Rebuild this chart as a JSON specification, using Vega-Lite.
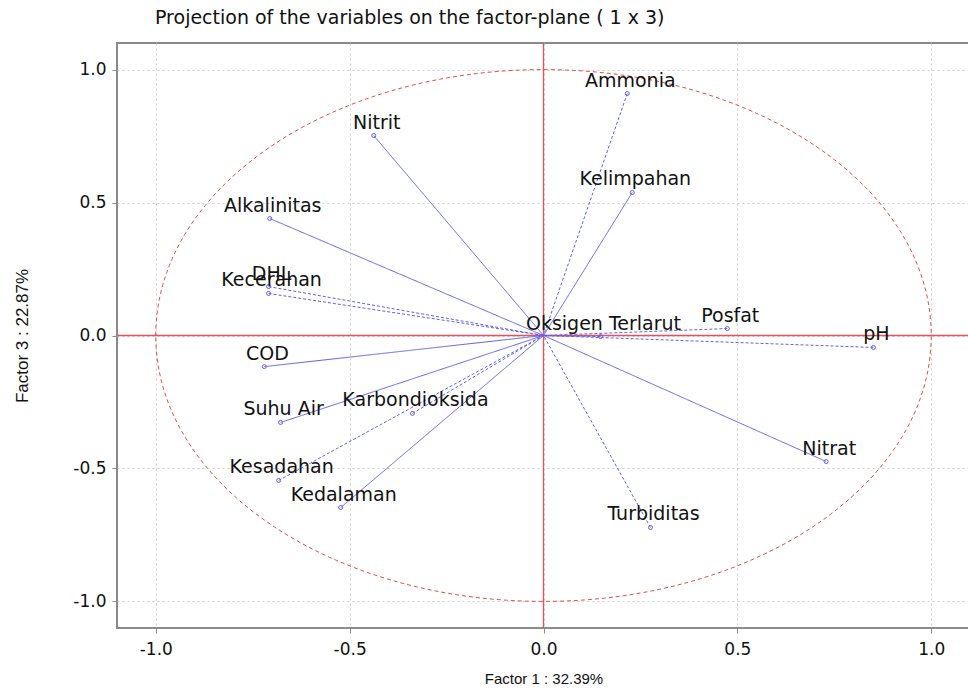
{
  "$schema": "https://vega.github.io/schema/vega-lite/v6.json",
  "width": 853,
  "height": 585,
  "autosize": {"type": "none"},
  "padding": {"left": 117, "top": 43, "right": 0, "bottom": 65},
  "background": "white",
  "title": {
    "text": "Projection of the variables on the factor-plane (  1 x   3)",
    "anchor": "start",
    "frame": "group",
    "dx": 38,
    "offset": 14,
    "font": "DejaVu Sans",
    "fontSize": 19,
    "fontWeight": "normal",
    "color": "#111"
  },
  "config": {
    "view": {"stroke": "#8a8a8a", "strokeWidth": 2},
    "axis": {
      "grid": true,
      "gridColor": "#cfcfcf",
      "gridDash": [2, 3],
      "gridWidth": 1,
      "domain": false,
      "tickColor": "#8a8a8a",
      "tickSize": 5,
      "labelFont": "DejaVu Sans",
      "labelFontSize": 17,
      "labelColor": "#111",
      "titleFont": "Liberation Sans",
      "titleFontSize": 15,
      "titleFontWeight": "normal",
      "titleColor": "#111"
    }
  },
  "datasets": {
    "vars": [
      {"name": "Ammonia", "f1": 0.216, "f3": 0.91, "line": "dotted"},
      {"name": "Nitrit", "f1": -0.438, "f3": 0.752, "line": "solid"},
      {"name": "Kelimpahan", "f1": 0.229, "f3": 0.538, "line": "solid"},
      {"name": "Alkalinitas", "f1": -0.706, "f3": 0.44, "line": "solid"},
      {"name": "DHL", "f1": -0.709, "f3": 0.184, "line": "dotted"},
      {"name": "Kecerahan", "f1": -0.709, "f3": 0.158, "line": "dotted"},
      {"name": "COD", "f1": -0.72, "f3": -0.117, "line": "solid"},
      {"name": "Suhu Air", "f1": -0.678, "f3": -0.327, "line": "solid"},
      {"name": "Karbondioksida", "f1": -0.338, "f3": -0.293, "line": "dotted"},
      {"name": "Kesadahan", "f1": -0.683, "f3": -0.545, "line": "dotted"},
      {"name": "Kedalaman", "f1": -0.523, "f3": -0.647, "line": "solid"},
      {"name": "Turbiditas", "f1": 0.276, "f3": -0.722, "line": "dotted"},
      {"name": "Nitrat", "f1": 0.729, "f3": -0.474, "line": "solid"},
      {"name": "pH", "f1": 0.851, "f3": -0.045, "line": "dotted"},
      {"name": "Posfat", "f1": 0.474, "f3": 0.026, "line": "dotted"},
      {"name": "Oksigen Terlarut", "f1": 0.147, "f3": -0.004, "line": "dotted"}
    ],
    "origin": [{"cx": 0, "cy": 0}]
  },
  "layer": [
    {
      "data": {"name": "origin"},
      "mark": {
        "type": "point",
        "shape": "M -1 0 A 1 0.6858 0 1 1 1 0 A 1 0.6858 0 1 1 -1 0 Z",
        "size": 601330,
        "filled": false,
        "stroke": "#e05050",
        "strokeWidth": 1,
        "strokeDash": [4, 3],
        "opacity": 1
      },
      "encoding": {
        "x": {
          "field": "cx",
          "type": "quantitative",
          "scale": {"domain": [-1.1, 1.1], "nice": false, "zero": false},
          "axis": {"values": [-1, -0.5, 0, 0.5, 1], "labelExpr": "replace(format(datum.value, '.1f'), '−', '-')", "title": "Factor 1 : 32.39%", "labelPadding": 8, "titlePadding": 14}
        },
        "y": {
          "field": "cy",
          "type": "quantitative",
          "scale": {"domain": [-1.1, 1.1], "nice": false, "zero": false},
          "axis": {"values": [-1, -0.5, 0, 0.5, 1], "labelExpr": "replace(format(datum.value, '.1f'), '−', '-')", "title": "Factor 3 : 22.87%", "labelPadding": 6, "titlePadding": 41, "titleFontSize": 17}
        }
      }
    },
    {
      "data": {"name": "origin"},
      "mark": {"type": "rule", "stroke": "#e8505a", "strokeWidth": 1.3},
      "encoding": {"x": {"field": "cx", "type": "quantitative"}}
    },
    {
      "data": {"name": "origin"},
      "mark": {"type": "rule", "stroke": "#e8505a", "strokeWidth": 1.3},
      "encoding": {"y": {"field": "cy", "type": "quantitative"}}
    },
    {
      "data": {"name": "vars"},
      "mark": {"type": "rule", "color": "#5f5ff0", "strokeWidth": 1},
      "encoding": {
        "x": {"field": "f1", "type": "quantitative"},
        "y": {"field": "f3", "type": "quantitative"},
        "x2": {"datum": 0},
        "y2": {"datum": 0},
        "strokeDash": {
          "field": "line",
          "type": "nominal",
          "scale": {"domain": ["solid", "dotted"], "range": [[1, 0], [3, 2]]},
          "legend": null
        }
      }
    },
    {
      "data": {"name": "vars"},
      "mark": {"type": "point", "shape": "circle", "size": 16, "filled": false, "color": "#5f5ff0", "strokeWidth": 1, "opacity": 1},
      "encoding": {
        "x": {"field": "f1", "type": "quantitative"},
        "y": {"field": "f3", "type": "quantitative"}
      }
    },
    {
      "data": {"name": "vars"},
      "mark": {"type": "text", "font": "DejaVu Sans", "fontSize": 19, "color": "#111", "align": "center", "baseline": "middle", "dx": 3, "dy": -13},
      "encoding": {
        "x": {"field": "f1", "type": "quantitative"},
        "y": {"field": "f3", "type": "quantitative"},
        "text": {"field": "name"}
      }
    }
  ]
}
